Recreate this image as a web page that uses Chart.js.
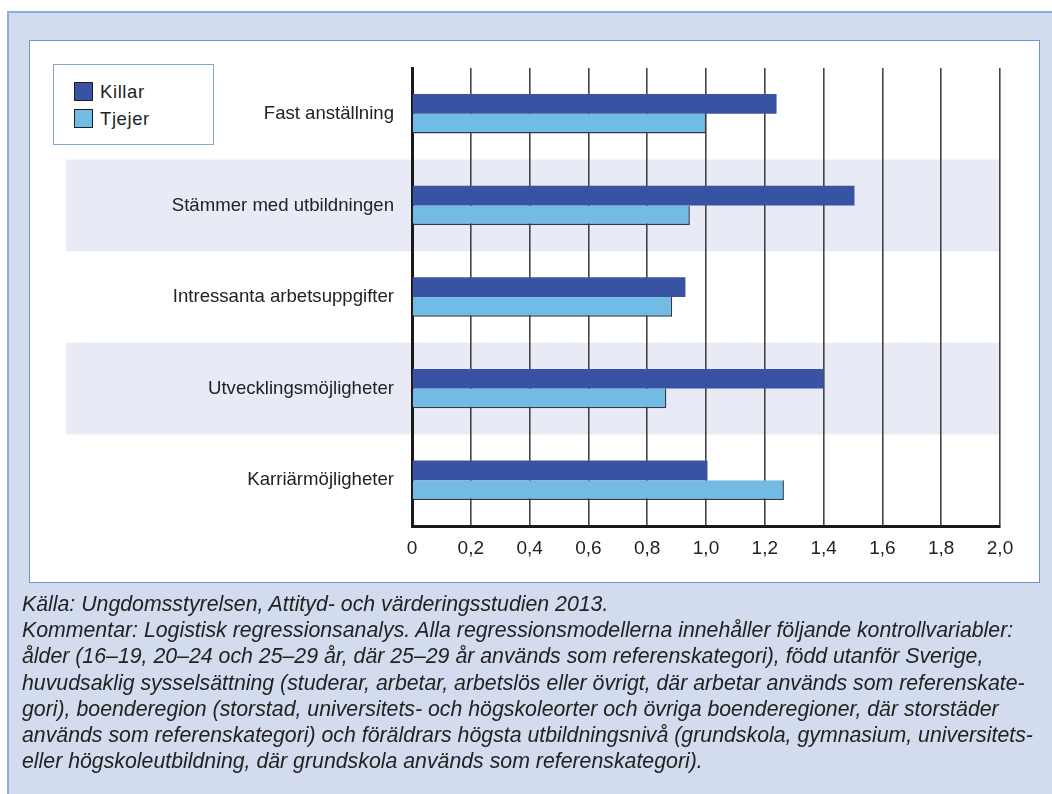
<!DOCTYPE html>
<html lang="sv">
<head>
<meta charset="utf-8">
<title>Killar och tjejer – arbetsvärderingar</title>
<script src="https://cdn.jsdelivr.net/npm/chart.js@4.4.1/dist/chart.umd.min.js"></script>
<style>
  html, body { margin: 0; padding: 0; background: #ffffff; }
  body { width: 1052px; height: 794px; position: relative; overflow: hidden;
         font-family: "Liberation Sans", Arial, sans-serif; color: #222; }
  #outer { position: absolute; left: 7px; top: 11px; width: 1045px; height: 783px;
           background: #d3dcee; border-top: 2px solid #8eacd9; border-left: 2px solid #8eacd9;
           box-sizing: border-box; }
  #panel { position: absolute; left: 29px; top: 40px; width: 1011px; height: 543px;
           background: #ffffff; border: 1.5px solid #6f95d0; box-sizing: border-box; }
  #chart { position: absolute; left: 0; top: 0; }
  #legend { position: absolute; left: 53px; top: 64px; width: 161px; height: 81px;
            border: 1.5px solid #86a6d8; box-sizing: border-box; background: #fff; }
  .lg-item { position: absolute; left: 20px; height: 19px; line-height: 19px;
             font-size: 18.5px; letter-spacing: 0.6px; white-space: nowrap; }
  .lg-swatch { position: absolute; left: 0; top: 0; width: 19px; height: 19px;
               box-sizing: border-box; border: 1.2px solid #1e1e1e; }
  .lg-text { position: absolute; left: 26px; top: 0; }
  #notes { position: absolute; left: 22px; top: 591px; font-style: italic; font-size: 21.3px;
           line-height: 26.2px; color: #222; white-space: nowrap; }
</style>
</head>
<body>
<div id="outer"></div>
<div id="panel"></div>
<canvas id="chart" width="1052" height="794"></canvas>
<div id="legend"></div>
<div id="notes"></div>

<script>
// Job aspects (categories), top to bottom
const categories = [
  'Fast anställning',
  'Stämmer med utbildningen',
  'Intressanta arbetsuppgifter',
  'Utvecklingsmöjligheter',
  'Karriärmöjligheter'
];

// Odds ratios per group
const killarValues = [1.24, 1.505, 0.93, 1.40, 1.005];
const tjejerValues = [1.00, 0.945, 0.885, 0.865, 1.265];

const seriesNames = ['Killar', 'Tjejer'];
const seriesColors = ['#3953a4', '#72bbe5'];

// Axis tick labels (Swedish decimal comma)
const xTickLabels = ['0', '0,2', '0,4', '0,6', '0,8', '1,0', '1,2', '1,4', '1,6', '1,8', '2,0'];

// Categories that get a shaded background band
const shadedRows = [1, 3];

const noteLines = [
  'Källa: Ungdomsstyrelsen, Attityd- och värderingsstudien 2013.',
  'Kommentar: Logistisk regressionsanalys. Alla regressionsmodellerna innehåller följande kontrollvariabler:',
  'ålder (16–19, 20–24 och 25–29 år, där 25–29 år används som referenskategori), född utanför Sverige,',
  'huvudsaklig sysselsättning (studerar, arbetar, arbetslös eller övrigt, där arbetar används som referenskate-',
  'gori), boenderegion (storstad, universitets- och högskoleorter och övriga boenderegioner, där storstäder',
  'används som referenskategori) och föräldrars högsta utbildningsnivå (grundskola, gymnasium, universitets-',
  'eller högskoleutbildning, där grundskola används som referenskategori).'
];

// Horizontal bands behind alternating categories
const rowBands = {
  id: 'rowBands',
  beforeDraw(chart) {
    const y = chart.scales.y;
    const area = chart.chartArea;
    const step = y.getPixelForValue(1) - y.getPixelForValue(0);
    const ctx = chart.ctx;
    ctx.save();
    ctx.fillStyle = '#e8ebf5';
    shadedRows.forEach(function (i) {
      const c = y.getPixelForValue(i);
      ctx.fillRect(66, c - step / 2, area.right - 66, step);
    });
    ctx.restore();
  }
};

new Chart(document.getElementById('chart'), {
  type: 'bar',
  data: {
    labels: categories,
    datasets: [
      {
        label: seriesNames[0],
        data: killarValues,
        backgroundColor: seriesColors[0],
        borderWidth: 0,
        categoryPercentage: 0.43,
        barPercentage: 1.0
      },
      {
        label: seriesNames[1],
        data: tjejerValues,
        backgroundColor: seriesColors[1],
        borderColor: '#2e3a4c',
        borderWidth: { top: 0, left: 0, right: 1.5, bottom: 1.5 },
        borderSkipped: false,
        categoryPercentage: 0.43,
        barPercentage: 1.0
      }
    ]
  },
  options: {
    indexAxis: 'y',
    responsive: false,
    animation: false,
    devicePixelRatio: 1,
    layout: { padding: { top: 68, right: 52, bottom: 0, left: 0 } },
    plugins: {
      legend: { display: false },
      tooltip: { enabled: false }
    },
    scales: {
      x: {
        type: 'linear',
        min: 0,
        max: 2,
        ticks: {
          stepSize: 0.2,
          padding: 11,
          color: '#222',
          font: { family: 'Liberation Sans', size: 19 },
          maxRotation: 0,
          callback: function (v, i) { return xTickLabels[i]; }
        },
        grid: { color: '#444444', lineWidth: 1.6, drawTicks: false },
        border: { display: true, color: '#1a1a1a', width: 3 },
        afterFit: function (s) { s.height = 268; }
      },
      y: {
        type: 'category',
        ticks: {
          padding: 18,
          color: '#222',
          font: { family: 'Liberation Sans', size: 18.6 }
        },
        grid: { display: false, drawTicks: false },
        border: { display: true, color: '#1a1a1a', width: 3 },
        afterFit: function (s) { s.width = 412; }
      }
    }
  },
  plugins: [rowBands]
});

// Legend entries built from the series
const legend = document.getElementById('legend');
seriesNames.forEach(function (name, i) {
  const item = document.createElement('div');
  item.className = 'lg-item';
  item.style.top = (i === 0 ? 17 : 44) + 'px';
  const sw = document.createElement('div');
  sw.className = 'lg-swatch';
  sw.style.background = seriesColors[i];
  const tx = document.createElement('div');
  tx.className = 'lg-text';
  tx.textContent = name;
  item.appendChild(sw);
  item.appendChild(tx);
  legend.appendChild(item);
});

// Source and comment lines
const notes = document.getElementById('notes');
noteLines.forEach(function (line) {
  const d = document.createElement('div');
  d.textContent = line;
  notes.appendChild(d);
});
</script>
</body>
</html>
